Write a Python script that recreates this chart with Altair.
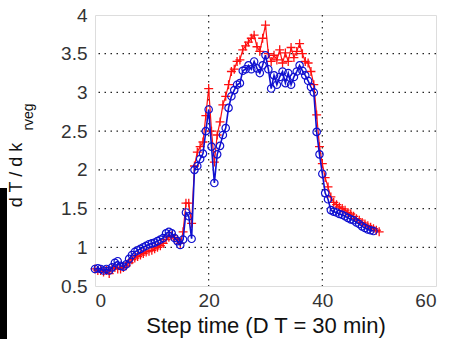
import altair as alt
import pandas as pd

# Sensitivity of T with respect to k_rveg over the simulation steps
step_blue = [i * 0.5 for i in range(99)]      # 0 .. 49
sens_blue = [
    0.72, 0.73, 0.72, 0.70, 0.72, 0.70, 0.74, 0.80, 0.82, 0.76,
    0.75, 0.78, 0.85, 0.90, 0.94, 0.96, 0.98, 1.00, 1.02, 1.04,
    1.05, 1.06, 1.08, 1.10, 1.12, 1.18, 1.20, 1.18, 1.12, 1.08,
    1.03, 1.10, 1.45, 1.40, 1.11, 2.00, 2.05, 2.14, 2.21, 2.50,
    2.78, 2.30, 1.83, 2.20, 2.31, 2.45, 2.54, 2.80, 2.95, 3.03,
    3.10, 3.12, 3.28, 3.30, 3.35, 3.30, 3.40, 3.31, 3.25, 3.35,
    3.48, 3.30, 3.05, 3.22, 3.10, 3.20, 3.27, 3.12, 3.25, 3.10,
    3.20, 3.27, 3.35, 3.28, 3.22, 3.15, 3.07, 3.00, 2.49, 2.20,
    1.95, 1.70, 1.62, 1.48, 1.46, 1.45, 1.43, 1.42, 1.40, 1.38,
    1.36, 1.35, 1.32, 1.30, 1.27, 1.25, 1.23, 1.22, 1.21,
]

step_red = [i * 0.5 for i in range(101)]      # 0 .. 50
sens_red = [
    0.72, 0.70, 0.70, 0.68, 0.70, 0.66, 0.72, 0.74, 0.72, 0.72,
    0.74, 0.76, 0.80, 0.84, 0.86, 0.88, 0.90, 0.92, 0.94, 0.95,
    0.96, 0.98, 1.00, 1.02, 1.05, 1.10, 1.13, 1.15, 1.12, 1.10,
    1.05, 1.20, 1.57, 1.57, 1.31, 2.05, 2.23, 2.30, 2.36, 2.70,
    3.05, 2.50, 2.10, 2.45, 2.62, 2.84, 2.95, 3.10, 3.27, 3.30,
    3.40, 3.42, 3.55, 3.60, 3.65, 3.70, 3.74, 3.59, 3.53, 3.70,
    3.87, 3.50, 3.40, 3.48, 3.42, 3.55, 3.38, 3.51, 3.40, 3.58,
    3.45, 3.53, 3.63, 3.50, 3.40, 3.38, 3.27, 3.10, 2.71, 2.30,
    2.08, 1.90, 1.78, 1.65, 1.58, 1.55, 1.52, 1.50, 1.48, 1.45,
    1.43, 1.40, 1.37, 1.35, 1.32, 1.30, 1.28, 1.26, 1.24, 1.22,
    1.20,
]

x_ticks = [0, 20, 40, 60]
y_ticks = [0.5, 1, 1.5, 2, 2.5, 3, 3.5, 4]
x_grid = [20, 40]
y_grid = [1, 1.5, 2, 2.5, 3, 3.5]

FONT = "Liberation Sans"
W, H = 341, 271

blue_df = pd.DataFrame({"step": step_blue, "val": sens_blue})
red_df = pd.DataFrame({"step": step_red, "val": sens_red})

xs = alt.Scale(domain=[0, 60], nice=False, zero=False)
ys = alt.Scale(domain=[0.5, 4], nice=False, zero=False)

x_enc = alt.X("step:Q", scale=xs, axis=alt.Axis(
    values=x_ticks, title="Step time (D T = 30 min)", grid=False,
    ticks=False, domain=False, labelFontSize=19, labelColor="#333",
    labelFont=FONT, labelPadding=5,
    titleFont=FONT, titleFontSize=22,
    titleFontWeight="normal", titleColor="#111", titlePadding=5))
y_enc = alt.Y("val:Q", scale=ys, axis=alt.Axis(
    values=y_ticks, title=None, grid=False, ticks=False, domain=False,
    labelFontSize=19, labelColor="#333", labelFont=FONT, labelPadding=8,
    format="~g"))

dots = [1.5, 4.5]
vgrid = alt.Chart(pd.DataFrame({"step": x_grid})).mark_rule(
    color="#222", strokeDash=dots, strokeWidth=1.2
).encode(x=x_enc)
hgrid = alt.Chart(pd.DataFrame({"val": y_grid})).mark_rule(
    color="#222", strokeDash=dots, strokeWidth=1.2
).encode(y=y_enc)

red_line = alt.Chart(red_df).mark_line(color="#ff1010", strokeWidth=1.2).encode(x=x_enc, y=y_enc)
red_pts = alt.Chart(red_df).mark_point(
    shape="M-1,0L1,0M0,-1L0,1", size=80, filled=False, color="#ff1010",
    strokeWidth=1.3, opacity=1
).encode(x=x_enc, y=y_enc)

blue_line = alt.Chart(blue_df).mark_line(color="#1010d0", strokeWidth=1.6).encode(x=x_enc, y=y_enc)
blue_pts = alt.Chart(blue_df).mark_point(
    shape="circle", size=55, filled=False, color="#1010d0",
    strokeWidth=1.2, opacity=1
).encode(x=x_enc, y=y_enc)

ylab_main = alt.Chart(pd.DataFrame({"t": ["d T / d k"]})).mark_text(
    angle=270, font=FONT, fontSize=18, color="#111", align="center", baseline="middle"
).encode(text="t:N", x=alt.value(-78), y=alt.value(160))
ylab_sub = alt.Chart(pd.DataFrame({"t": ["rveg"]})).mark_text(
    angle=270, font=FONT, fontSize=14, color="#111", align="center", baseline="middle"
).encode(text="t:N", x=alt.value(-66), y=alt.value(102))

side_bar = alt.Chart(pd.DataFrame({"k": [0]})).mark_rect(color="black", clip=False).encode(
    x=alt.value(-95), x2=alt.value(-88), y=alt.value(173), y2=alt.value(330))

chart = alt.layer(
    vgrid, hgrid, red_line, red_pts, blue_line, blue_pts, ylab_main, ylab_sub, side_bar
).properties(
    width=W, height=H,
    title=alt.TitleParams("rveg", font=FONT, fontSize=19, fontWeight="normal",
                          color="#111", anchor="middle", offset=12, dx=3),
    autosize=alt.AutoSizeParams(type="none"),
    padding={"left": 95, "top": 15, "right": 16, "bottom": 53},
).configure_axis(
    labelOverlap=False, labelFlush=False, labelBound=False
).configure_view(
    stroke="black", strokeWidth=1.5
).configure(background="white")

chart.save("out.html", embed_options={"renderer": "svg", "actions": False})
